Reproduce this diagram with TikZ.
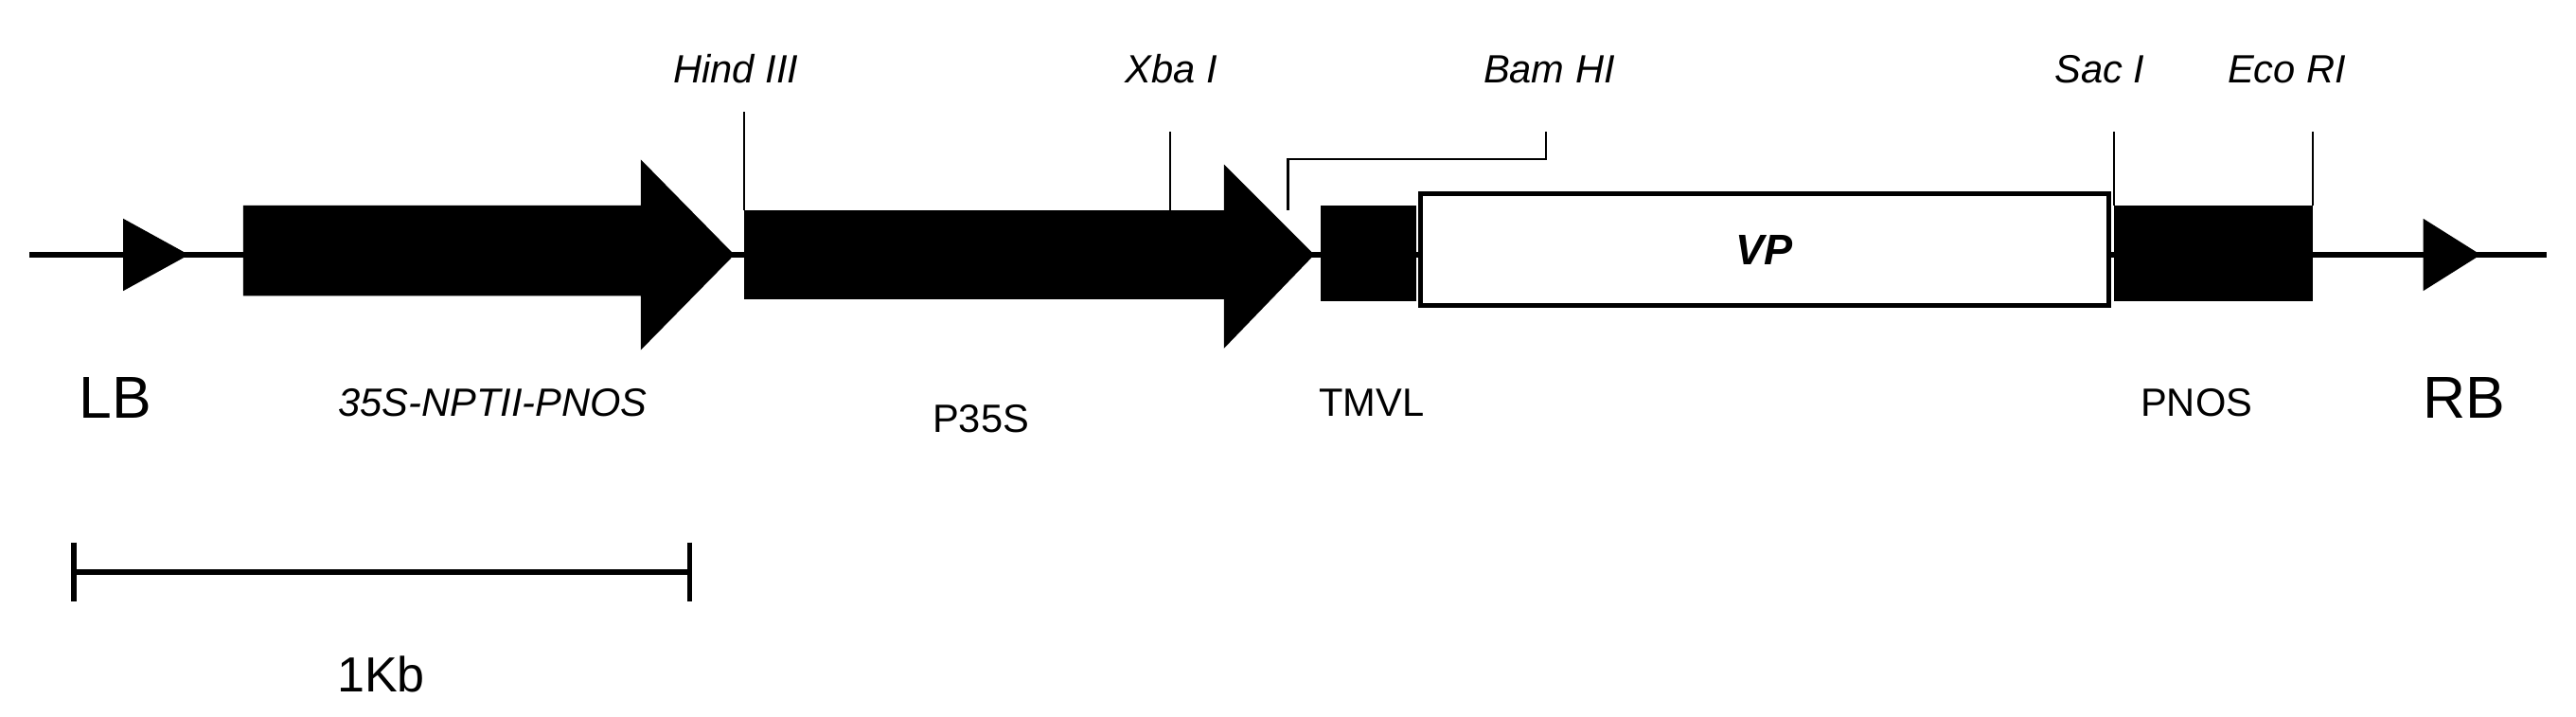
\documentclass[tikz,border=0pt]{standalone}
\usepackage{fontspec}
\setmainfont{Liberation Sans}
\begin{document}
\begin{tikzpicture}[x=1pt,y=-1pt,
  site/.style={line width=1.2pt},
  lab/.style={font=\fontsize{24}{28}\selectfont\itshape},
  nm/.style={font=\fontsize{24}{28}\selectfont},
  big/.style={font=\fontsize{36}{40}\selectfont},
  blk/.style={fill=black,draw=none}]
\useasboundingbox (0,0) rectangle (1568,436);
% backbone
\draw[line width=3pt] (18,155) -- (1550,155);
\fill[blk] (75,133) -- (115,155) -- (75,177) -- cycle;
\fill[blk] (1475,133) -- (1510,155) -- (1475,177) -- cycle;
% arrows
\fill[blk] (148,125) -- (390,125) -- (390,97) -- (447,155) -- (390,213) -- (390,180) -- (148,180) -- cycle;
\fill[blk] (453,128) -- (745,128) -- (745,100) -- (800,155) -- (745,212) -- (745,182) -- (453,182) -- cycle;
\fill[blk] (804,125) rectangle (862,183);
\node[draw,line width=3pt,fill=white,minimum width=419pt,minimum height=68pt,anchor=west,inner sep=0pt,font=\fontsize{26}{30}\selectfont\bfseries\itshape] (vp) at (863,152) {VP};
\fill[blk] (1287,125) rectangle (1408,183);
% sites
\coordinate (h1) at (453,68); \coordinate (h2) at (453,128);
\draw[site] (h1) -- (h2);
\coordinate (x1) at (712,80); \coordinate (x2) at (712,128);
\draw[site] (x1) -- (x2);
\coordinate (b1) at (784,128); \coordinate (b2) at (941,80);
\draw[site] (b1) |- (941,97) -- (b2);
\coordinate (s1) at (1287,80); \coordinate (s2) at (1287,125);
\draw[site] (s1) -- (s2);
\coordinate (e1) at (1408,80); \coordinate (e2) at (1408,125);
\draw[site] (e1) -- (e2);
\node[lab] (lh) at (448,42) {Hind III};
\node[lab] (lx) at (713,42) {Xba I};
\node[lab] (lb) at (943,42) {Bam HI};
\node[lab] (ls) at (1278,42) {Sac I};
\node[lab] (le) at (1392,42) {Eco RI};
% labels
\node[big] (LB) at (70,242) {LB};
\node[big] (RB) at (1500,242) {RB};
\node[lab] (n1) at (300,245) {35S-NPTII-PNOS};
\node[nm] (n2) at (597,255) {P35S};
\node[nm] (n3) at (835,245) {TMVL};
\node[nm] (n4) at (1337,245) {PNOS};
% scale
\coordinate (sa) at (45,348); \coordinate (sb) at (420,348);
\draw[line width=3pt] (sa) -- (sb);
\draw[line width=3pt] (45,330) -- (45,366) (420,330) -- (420,366);
\node[font=\fontsize{30}{34}\selectfont] (kb) at (232,410) {1Kb};
\end{tikzpicture}
\end{document}
